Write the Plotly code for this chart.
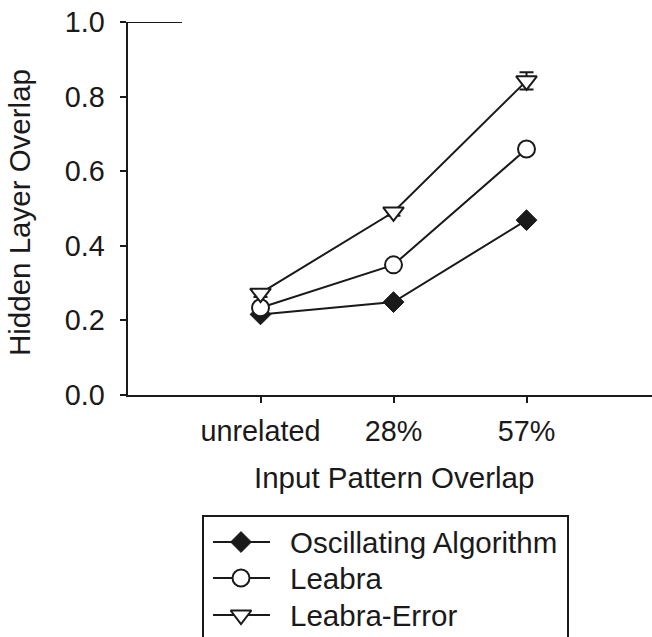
import plotly.graph_objects as go

# ---- data -------------------------------------------------------------
categories = ["unrelated", "28%", "57%"]
cat_pos = [1, 2, 3]
series_names = ["Oscillating Algorithm", "Leabra", "Leabra-Error"]
oscillating = [0.215, 0.248, 0.468]
leabra = [0.233, 0.348, 0.659]
leabra_error = [0.272, 0.490, 0.842]
leabra_error_sem = [0.010, 0.010, 0.023]
y_ticks = [0.0, 0.2, 0.4, 0.6, 0.8, 1.0]
y_tick_text = ["0.0", "0.2", "0.4", "0.6", "0.8", "1.0"]

# ---- styling ----------------------------------------------------------
W, H = 652, 637
INK = "#1a1a1a"
FONT = "Liberation Sans, Arial, Helvetica, sans-serif"
TICK_FS = 28.8
TITLE_FS = 29.5

# plot area in pixels
px_left, px_right = 127.5, 652.0
px_top, px_bottom = 22.0, 394.5
px_per_cat = 133.0

marker_styles = [
    dict(symbol="diamond", size=16, color=INK, line=dict(color=INK, width=1)),
    dict(symbol="circle", size=17, color="white", line=dict(color=INK, width=2)),
    dict(symbol="triangle-down", size=18, color="white", line=dict(color=INK, width=2)),
]

fig = go.Figure()

values = [oscillating, leabra, leabra_error]
for i, (name, vals) in enumerate(zip(series_names, values)):
    kw = {}
    if name == "Leabra-Error":
        kw["error_y"] = dict(type="data", array=leabra_error_sem, visible=True,
                             color=INK, thickness=2, width=7)
    fig.add_trace(go.Scatter(
        x=cat_pos, y=vals, name=name, mode="lines+markers",
        line=dict(color=INK, width=2),
        marker=marker_styles[i],
        showlegend=False, cliponaxis=False, **kw))

# ---- legend drawn on a pixel-space helper axis ------------------------
leg_rows = [542, 578, 615]
leg_line_x = [213, 270]
leg_marker_x = 241
leg_text_x = 288
for i, name in enumerate(series_names):
    yy = leg_rows[i]
    fig.add_trace(go.Scatter(
        x=leg_line_x, y=[yy, yy], mode="lines", line=dict(color=INK, width=2),
        xaxis="x2", yaxis="y2", showlegend=False, hoverinfo="skip"))
    fig.add_trace(go.Scatter(
        x=[leg_marker_x], y=[yy], mode="markers", marker=marker_styles[i],
        xaxis="x2", yaxis="y2", showlegend=False, hoverinfo="skip"))
    fig.add_annotation(x=leg_text_x, y=yy, xref="x2", yref="y2", text=name,
                       showarrow=False, xanchor="left", yanchor="middle",
                       font=dict(family=FONT, size=TITLE_FS, color=INK))

fig.add_shape(type="rect", xref="x2", yref="y2", x0=203, x1=568, y0=516, y1=660,
              line=dict(color=INK, width=2), fillcolor="rgba(0,0,0,0)")

# short rule at the top of the value axis
fig.add_shape(type="line", xref="x", yref="y", x0=0, x1=(182 - px_left) / px_per_cat,
              y0=1.0, y1=1.0, line=dict(color=INK, width=2))

# axis titles
fig.add_annotation(x=2, y=477, xref="x", yref="y2", text="Input Pattern Overlap",
                   showarrow=False, xanchor="center", yanchor="middle",
                   font=dict(family=FONT, size=TITLE_FS, color=INK))
fig.add_annotation(x=19, y=213, xref="x2", yref="y2", text="Hidden Layer Overlap",
                   showarrow=False, textangle=-90, xanchor="center", yanchor="middle",
                   font=dict(family=FONT, size=TITLE_FS, color=INK))

fig.update_layout(
    width=W, height=H, autosize=False,
    margin=dict(l=0, r=0, t=0, b=0),
    paper_bgcolor="white", plot_bgcolor="rgba(0,0,0,0)",
    font=dict(family=FONT, color=INK),
    xaxis=dict(
        domain=[px_left / W, 1.0],
        range=[0, (px_right - px_left) / px_per_cat],
        tickvals=cat_pos, ticktext=categories,
        ticks="outside", ticklen=6, tickwidth=1.5, tickcolor=INK,
        showline=True, linecolor=INK, linewidth=2,
        showgrid=False, zeroline=False, automargin=False,
        tickfont=dict(family=FONT, size=TICK_FS, color=INK),
        ticklabelstandoff=4, fixedrange=True,
    ),
    yaxis=dict(
        domain=[1 - px_bottom / H, 1 - px_top / H],
        range=[0, 1],
        tickvals=y_ticks, ticktext=y_tick_text,
        ticks="outside", ticklen=6, tickwidth=1.5, tickcolor=INK,
        showline=True, linecolor=INK, linewidth=2,
        showgrid=False, zeroline=False, automargin=False,
        tickfont=dict(family=FONT, size=TICK_FS, color=INK),
        ticklabelstandoff=9, fixedrange=True,
    ),
    xaxis2=dict(domain=[0, 1], range=[0, W], visible=False, anchor="y2",
                fixedrange=True),
    yaxis2=dict(domain=[0, 1], range=[H, 0], visible=False, anchor="x2",
                fixedrange=True),
    showlegend=False,
)

fig.write_html("out.html")
